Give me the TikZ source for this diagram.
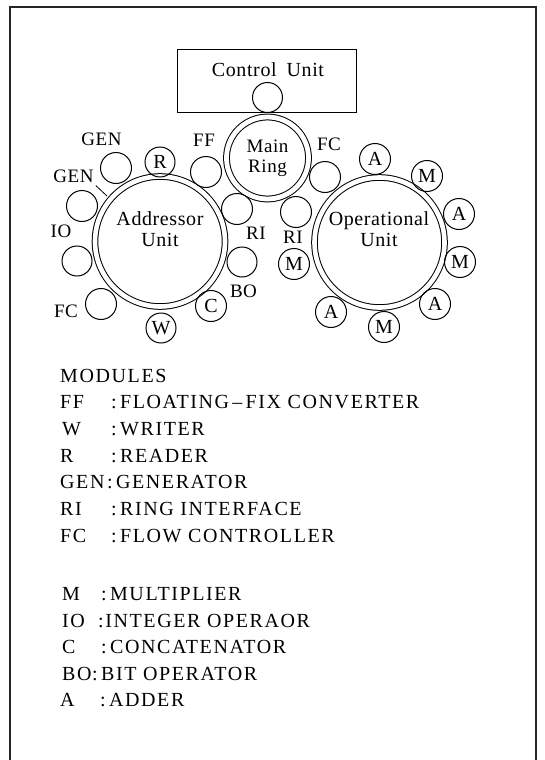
\documentclass[tikz,border=0pt]{standalone}
\usepackage{fontspec}
\setmainfont{Liberation Serif}[LetterSpace=3]
\newfontfamily\legfont{Liberation Serif}[LetterSpace=8]
\usetikzlibrary{positioning}

\begin{document}
\begin{tikzpicture}[x=1pt, y=-1pt,
  unit/.style={draw, circle, double, double distance=4.6pt, line width=1pt,
               minimum size=130pt, inner sep=0pt},
  ring/.style={draw, circle, double, double distance=4.8pt, line width=1pt,
               minimum size=82pt, inner sep=0pt, align=center,
               font=\fontsize{19}{20}\selectfont},
  mod/.style={draw, circle, line width=1pt, minimum size=31pt, inner sep=0pt,
              font=\fontsize{20}{20}\selectfont},
  lbl/.style={inner sep=0pt, font=\fontsize{19}{19}\selectfont},
  uname/.style={align=center, inner sep=0pt, font=\fontsize{20}{21}\selectfont},
  leg/.style={anchor=base west, inner sep=0pt, font=\legfont\fontsize{20}{24}\selectfont},
]
\useasboundingbox (0,0) rectangle (544,760);
\draw[line width=1.4pt, black!85] (10,760) -- (10,7) -- (536,7) -- (536,760);

% control unit and main ring
\node[draw, line width=1pt, minimum width=179pt, minimum height=62pt,
      inner sep=0pt] (cu) at (266.5,81) {};
\node[inner sep=0pt, font=\fontsize{20}{20}\selectfont] (cutxt) at (268,70)
  {Control\enspace Unit};
\node[mod, minimum size=30pt] (port) at (267.5,97.5) {};
\node[ring] (main) at (267.5,158) {Main\\Ring};

% the two units
\node[unit] (addr) at (160,241.5) {};
\node[uname] (addrtxt) at (160,229.5) {Addressor\\Unit};
\node[unit] (oper) at (379.5,242.5) {};
\node[uname] (opertxt) at (379,229) {Operational\\Unit};

% modules of the addressor unit
\node[mod] (agen) at (116,168) {};
\node[mod, minimum size=30pt] (ar) at (160,162) {R};
\node[mod] (aff) at (206,172) {};
\node[mod] (ari) at (237,209) {};
\node[mod, minimum size=30pt] (abo) at (242,262) {};
\node[mod] (ac) at (211,306) {C};
\node[mod, minimum size=30pt] (aw) at (161,328) {W};
\node[mod] (afc) at (101,304) {};
\node[mod, minimum size=30pt] (aio) at (77,261) {};
\node[mod] (agen2) at (82,206) {};

% modules of the operational unit
\node[mod] (ofc) at (325,177) {};
\node[mod] (ori) at (296,212) {};
\node[mod] (om1) at (294,264) {M};
\node[mod] (oa1) at (375,159) {A};
\node[mod] (om2) at (427,176) {M};
\node[mod] (oa2) at (459,214) {A};
\node[mod] (om3) at (460,262) {M};
\node[mod] (oa3) at (435,304) {A};
\node[mod] (om4) at (384,327) {M};
\node[mod] (oa4) at (331,312) {A};

% module names
\node[lbl] (lgen1) at (101.5,139) {GEN};
\node[lbl] (lgen2) at (73.5,176) {GEN};
\coordinate (gentip) at (107,196);
\draw[line width=0.8pt] ([xshift=2pt,yshift=-3pt]lgen2.south east) -- (gentip);
\node[lbl] (lio) at (61,231) {IO};
\node[lbl] (lff) at (204,140) {FF};
\node[lbl] (lri) at (256,233) {RI};
\node[lbl] (lbo) at (243.5,291) {BO};
\node[lbl] (lfc) at (66,311) {FC};
\node[lbl] (lfc2) at (329,144) {FC};
\node[lbl] (lri2) at (293,237) {RI};

% legend
\node[leg] (kmod) at (60,382) {MODULES};
\node[leg] (kff) at (60,408) {\makebox[51pt][l]{FF}:\,FLOATING\,–\,FIX CONVERTER};
\node[leg] (kw) at (62,435) {\makebox[49pt][l]{W}:\,WRITER};
\node[leg] (kr) at (60,462) {\makebox[51pt][l]{R}:\,READER};
\node[leg] (kgen) at (60,488) {\makebox[47pt][l]{GEN}:\,GENERATOR};
\node[leg] (kri) at (60,515) {\makebox[51pt][l]{RI}:\,RING INTERFACE};
\node[leg] (kfc) at (60,542) {\makebox[51pt][l]{FC}:\,FLOW CONTROLLER};
\node[leg] (km) at (62,600) {\makebox[39pt][l]{M}:\,MULTIPLIER};
\node[leg] (kio) at (62,627) {\makebox[36pt][l]{IO}:INTEGER OPERAOR};
\node[leg] (kc) at (62,653) {\makebox[39pt][l]{C}:\,CONCATENATOR};
\node[leg] (kbo) at (62,680) {\makebox[30pt][l]{BO}:\,BIT OPERATOR};
\node[leg] (ka) at (60,706) {\makebox[40pt][l]{A}:\,ADDER};
\end{tikzpicture}
\end{document}
